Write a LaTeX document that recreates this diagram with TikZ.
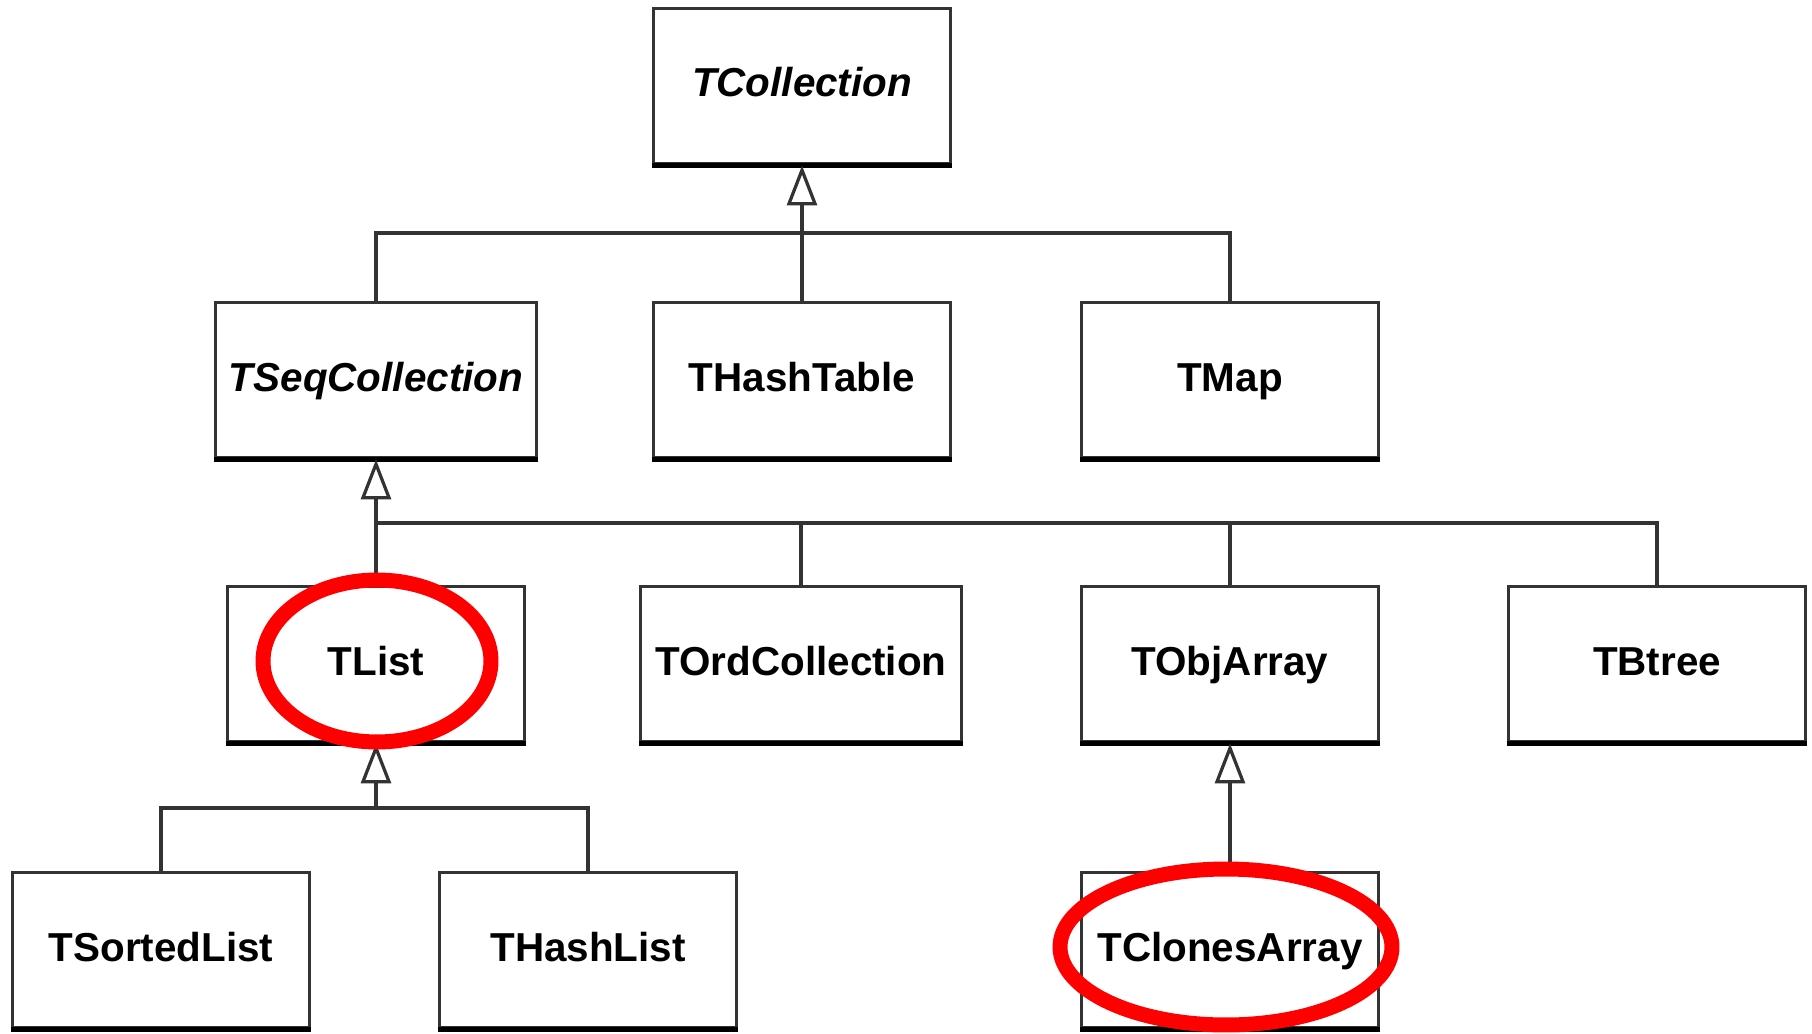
\documentclass[tikz,border=0pt]{standalone}
\usepackage{fontspec}
\setmainfont{Liberation Sans}
\usetikzlibrary{arrows.meta,shapes.geometric}
\begin{document}
\begin{tikzpicture}[x=0.02cm,y=-0.02cm,
 cls/.style={draw=black!80, line width=0.06cm, fill=white, minimum height=3.12cm, minimum width=5.96cm, inner sep=0pt, text height=0.6cm, text depth=0.16cm, font=\fontsize{23}{27}\selectfont\bfseries},
 wide/.style={minimum width=6.44cm},
 abstract/.style={font=\fontsize{23}{27}\selectfont\bfseries\itshape},
 link/.style={draw=black!80, line width=0.065cm},
 inh/.style={link, -{Triangle[open, length=0.8cm, width=0.6cm, fill=white]}},
 baseedge/.style={line width=0.1cm, black},
 hilite/.style={ellipse, draw=red, line width=0.3cm, inner sep=0pt}
]
\useasboundingbox[fill=white] (0,0) rectangle (1812,1034);

\node[cls, abstract] (TCollection) at (802,86) {TCollection};
\node[cls, wide, abstract] (TSeq) at (376,380) {TSeqCollection};
\node[cls] (THashTable) at (802,380) {THashTable};
\node[cls] (TMap) at (1230,380) {TMap};
\node[cls] (TList) at (376,664) {TList};
\node[cls, wide] (TOrd) at (801,664) {TOrdCollection};
\node[cls] (TObjArray) at (1230,664) {TObjArray};
\node[cls] (TBtree) at (1657,664) {TBtree};
\node[cls] (TSorted) at (161,950) {TSortedList};
\node[cls] (THashList) at (588,950) {THashList};
\node[cls] (TClones) at (1230,950) {TClonesArray};

\foreach \n in {TCollection,TSeq,THashTable,TMap,TList,TOrd,TObjArray,TBtree,TSorted,THashList,TClones}
  \draw[baseedge] (\n.south west) -- (\n.south east);

\coordinate (b1) at (802,233);
\coordinate (b2) at (376,523);
\coordinate (b3) at (376,808);

\draw[link] (TSeq.north) |- (b1) -| (TMap.north);
\draw[link] (THashTable.north) -- (b1);
\draw[inh] (b1) -- (TCollection.south);

\draw[link] (TList.north) -- (b2) -| (TBtree.north);
\draw[link] (TOrd.north) -- (TOrd.north |- b2);
\draw[link] (TObjArray.north) -- (TObjArray.north |- b2);
\draw[inh] (b2) -- (TSeq.south);

\draw[link] (TSorted.north) |- (b3) -| (THashList.north);
\draw[inh] (b3) -- (TList.south);

\draw[inh] (TClones.north) -- (TObjArray.south);

\node[hilite, minimum width=4.56cm, minimum height=3.24cm] (hl1) at (377,661) {};
\node[hilite, minimum width=6.64cm, minimum height=3.12cm] (hl2) at (1226,947) {};
\end{tikzpicture}
\end{document}
